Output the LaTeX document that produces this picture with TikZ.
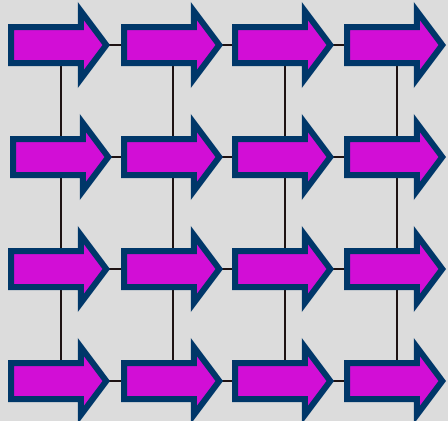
\documentclass[tikz,border=0pt]{standalone}
\usetikzlibrary{shapes.arrows,backgrounds}
\definecolor{bgc}{RGB}{220,220,220}
\definecolor{arrfill}{RGB}{210,14,214}
\definecolor{arrline}{RGB}{0,55,105}
\definecolor{wirec}{RGB}{30,18,18}
\begin{document}
\begin{tikzpicture}[x=1pt,y=-1pt,
  bigarrow/.style={single arrow, draw=arrline, fill=arrfill, line width=6pt,
    inner xsep=0pt, inner ysep=15pt, outer sep=0pt, minimum height=95.25pt,
    single arrow head extend=16pt, single arrow tip angle=106.3, anchor=tail},
  wire/.style={draw=wirec, line width=1.6pt}]
\useasboundingbox (0,0) rectangle (448,421);
% arrows
\foreach \r/\y in {1/45,2/157,3/269,4/381}{
  \foreach \c/\x/\vx in {1/8/61,2/121/173,3/232/285,4/344/397}{
    \ifnum\r=2 \ifnum\c=1 \def\x{10}\fi\fi
    \node[bigarrow] (a-\r-\c) at (\x+3,\y) {};
    \coordinate (v-\r-\c) at (\vx,\y);
  }
}
\begin{scope}[on background layer]
  \fill[bgc] (0,0) rectangle (448,421);
  \foreach \r in {1,2,3,4}{
    \foreach \c/\n in {1/2,2/3,3/4}{
      \draw[wire] (a-\r-\c.tip) -- (a-\r-\n.tail);
    }
  }
  \foreach \c in {1,2,3,4}{
    \foreach \r/\n in {1/2,2/3,3/4}{
      \draw[wire] (v-\r-\c) -- (v-\n-\c);
    }
  }
\end{scope}
\end{tikzpicture}
\end{document}
